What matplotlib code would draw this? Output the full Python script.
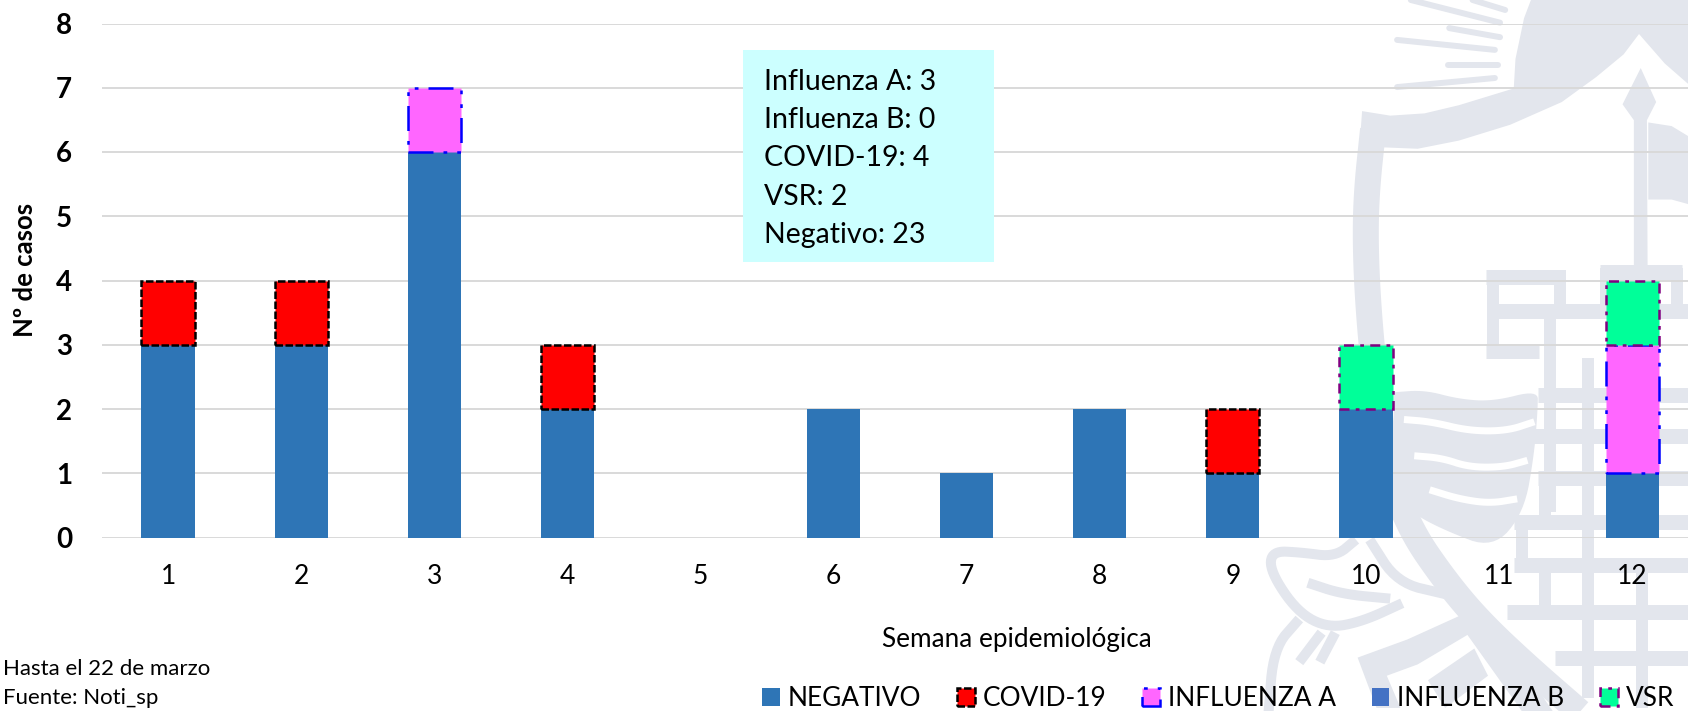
import numpy as np
import matplotlib
matplotlib.use('Agg')
import matplotlib.pyplot as plt
from matplotlib.patches import Patch, Polygon, Rectangle

W, H = 1688, 711
plt.rcParams['font.family'] = ['Lato', 'DejaVu Sans']

weeks = [1, 2, 3, 4, 5, 6, 7, 8, 9, 10, 11, 12]
negativo = [3, 3, 6, 2, 0, 2, 1, 2, 1, 2, 0, 1]
covid = [1, 1, 0, 1, 0, 0, 0, 0, 1, 0, 0, 0]
influenza_a = [0, 0, 1, 0, 0, 0, 0, 0, 0, 0, 0, 2]
influenza_b = [0, 0, 0, 0, 0, 0, 0, 0, 0, 0, 0, 0]
vsr = [0, 0, 0, 0, 0, 0, 0, 0, 0, 1, 0, 1]
resumen = ['Influenza A: 3', 'Influenza B: 0', 'COVID-19: 4', 'VSR: 2', 'Negativo: 23']

series = [
    ('NEGATIVO', negativo, '#2E75B6', 'none', 'solid'),
    ('COVID-19', covid, '#FF0000', 'black', (0, (3, 1))),
    ('INFLUENZA A', influenza_a, '#FF66FF', '#0000FF', (0, (10, 4, 1.5, 4, 1.5, 4))),
    ('INFLUENZA B', influenza_b, '#4472C4', 'none', 'solid'),
    ('VSR', vsr, '#00FF99', '#800080', (0, (4, 2.5, 1.5, 2.5))),
]


def fx(px):
    return px / W


def fy(py):
    return 1 - py / H


def smooth(pts, n=3):
    # chaikin corner cutting so the crest strokes are not jagged
    pts = np.array(pts, dtype=float)
    for _ in range(n):
        q = pts[:-1] * 0.75 + pts[1:] * 0.25
        r = pts[:-1] * 0.25 + pts[1:] * 0.75
        mid = np.empty((len(q) * 2, 2))
        mid[0::2] = q
        mid[1::2] = r
        pts = np.vstack([pts[:1], mid, pts[-1:]])
    return pts


fig = plt.figure(figsize=(W / 100, H / 100), dpi=100)

# background crest, traced in crop coordinates of the right hand part
wm = fig.add_axes([0, 0, 1, 1], zorder=-1)
wm.set_xlim(0, W)
wm.set_ylim(H, 0)
wm.axis('off')
WM = '#E3E6ED'


def crop(pts):
    pts = np.array(pts, dtype=float)
    return np.column_stack([1150 + pts[:, 0] / 2.914, pts[:, 1] / 2.205])


def stroke(pts, lw, color=WM, curved=True):
    # lw in pixels
    p = crop(pts)
    if curved:
        p = smooth(p)
    wm.plot(p[:, 0], p[:, 1], color=color, lw=lw * 0.72,
            solid_capstyle='butt', solid_joinstyle='round')


def shape(pts, color=WM, curved=False):
    p = crop(pts)
    if curved:
        p = smooth(p)
    wm.add_patch(Polygon(p, closed=True, fc=color, ec='none'))


# shield
stroke([(650, 285), (630, 430), (628, 560), (640, 720), (665, 900), (700, 1050),
        (760, 1170), (860, 1280), (960, 1370), (1100, 1470), (1260, 1575)], 26)
shape([(618, 245), (700, 255), (800, 250), (900, 232), (1060, 195), (1065, 130), (1090, 40),
       (1110, 0), (1568, 0), (1568, 185), (1500, 140), (1425, 75), (1380, 120), (1300, 170),
       (1200, 225), (1050, 275), (900, 310), (780, 328), (682, 325), (610, 330)])
# rays
for a, b, c, d in [(720, 88, 1005, 110), (872, 62, 1020, 82), (868, 143, 1015, 143),
                   (720, 192, 1005, 172), (760, 0, 1020, 50), (940, 0, 1035, 22)]:
    wm.plot(*crop([(a, b), (c, d)]).T, color=WM, lw=4.3, solid_capstyle='round')
# flag pole and flag
shape([(1430, 150), (1475, 225), (1448, 265), (1450, 590), (1410, 590), (1410, 265), (1377, 230)])
shape([(1452, 270), (1520, 278), (1568, 300), (1568, 450), (1520, 440), (1452, 440)])
# tower bricks
for y, x0, x1 in [(610, 980, 1210), (685, 985, 1568), (775, 980, 1135), (600, 1310, 1550),
                  (870, 1130, 1568), (962, 1120, 1568), (1053, 1130, 1568), (1150, 1060, 1568),
                  (1245, 1060, 1568), (1350, 1040, 1568), (1450, 1180, 1568)]:
    stroke([(x0, y), (x1, y)], 15, curved=False)
for x, y0, y1 in [(1000, 595, 790), (1195, 595, 680), (1165, 700, 1130), (1275, 790, 1540),
                  (1150, 1060, 1140), (1150, 1240, 1340), (1433, 1240, 1561), (1330, 590, 680),
                  (1535, 590, 680), (1085, 1150, 1240)]:
    stroke([(x, y0), (x, y1)], 12, curved=False)
# waves, they cover the bricks behind them
shape([(710, 865), (800, 860), (900, 880), (1000, 885), (1130, 860), (1130, 900), (1120, 1000),
       (1090, 1130), (1000, 1210), (860, 1170), (760, 1130), (710, 1080)], curved=True)
for pts in [[(740, 925), (820, 930), (930, 950), (1040, 950), (1120, 930)],
            [(770, 1005), (850, 1010), (930, 1030), (1030, 1030), (1100, 1015)],
            [(815, 1080), (900, 1100), (990, 1110), (1070, 1100)]]:
    stroke(pts, 7, color='white')
# ribbon
stroke([(600, 1190), (540, 1228), (440, 1218), (355, 1215), (350, 1260), (430, 1350),
        (520, 1385), (620, 1370), (735, 1330)], 10)
stroke([(460, 1285), (560, 1310), (700, 1320)], 10)
stroke([(640, 1190), (720, 1285), (860, 1310)], 10)
stroke([(345, 1575), (360, 1430), (435, 1365)], 10)
stroke([(435, 1460), (500, 1395)], 10)
stroke([(495, 1460), (540, 1395)], 10)
shape([(605, 1450), (750, 1410), (925, 1350), (1130, 1520), (1180, 1575), (1090, 1575),
       (925, 1400), (780, 1465), (690, 1490), (730, 1561), (660, 1561)])
shape([(810, 1500), (945, 1430), (985, 1490), (860, 1561)])

# chart area, right edge of the last category falls outside the picture
x_left, y_top, y_zero = 101.5, 23.5, 537.5
ax = fig.add_axes([fx(x_left), fy(y_zero), fx(W - x_left), (y_zero - y_top) / H], zorder=0)
ax.patch.set_alpha(0)
step = 133.1
ax.set_xlim(0.5, 0.5 + (W - x_left) / step)
ax.set_ylim(0, 8)

bottom = np.zeros(len(weeks))
handles = []
for name, vals, col, edge, style in series:
    edges = [edge if v > 0 else 'none' for v in vals]
    ax.bar(weeks, vals, width=0.4, bottom=bottom, color=col, edgecolor=edges,
           linewidth=1.8, linestyle=style, zorder=3)
    bottom += np.array(vals)
    handles.append(Patch(facecolor=col, edgecolor=edge, linewidth=1.8, linestyle=style, label=name))

for s in ax.spines.values():
    s.set_visible(False)
ax.grid(axis='y', color='#D9D9D9', lw=1.4, zorder=1)
ax.set_axisbelow(True)
ax.tick_params(length=0)
ax.set_xticks(weeks)
ax.set_xticklabels(weeks, fontsize=19)
ax.tick_params(axis='x', pad=19)
ax.set_yticks(range(9))
ax.set_yticklabels(range(9), fontsize=20, fontweight='bold')
ax.tick_params(axis='y', pad=21)

fig.text(fx(25), fy(270), 'Nº de casos', rotation=90, ha='center', va='center',
         fontsize=18.5, fontweight='bold')
fig.text(fx(1017), fy(640), 'Semana epidemiológica', ha='center', va='center', fontsize=18.8)
fig.text(fx(3), fy(669), 'Hasta el 22 de marzo', va='center', fontsize=16)
fig.text(fx(3), fy(698), 'Fuente: Noti_sp', va='center', fontsize=16)

fig.add_artist(Rectangle((fx(743), fy(262)), fx(994 - 743), (262 - 50) / H,
                         transform=fig.transFigure, fc='#CCFFFF', ec='none', zorder=1))
for i, line in enumerate(resumen):
    fig.text(fx(764), fy(82 + i * 38.2), line, va='center', fontsize=20.5)

fig.legend(handles=handles, ncol=5, loc='lower left', bbox_to_anchor=(fx(762), fy(711)),
           frameon=False, fontsize=18.9, borderpad=0, borderaxespad=0, handlelength=0.68,
           handleheight=0.68, handletextpad=0.3, columnspacing=1.36)

fig.savefig('out.png', dpi=100)
